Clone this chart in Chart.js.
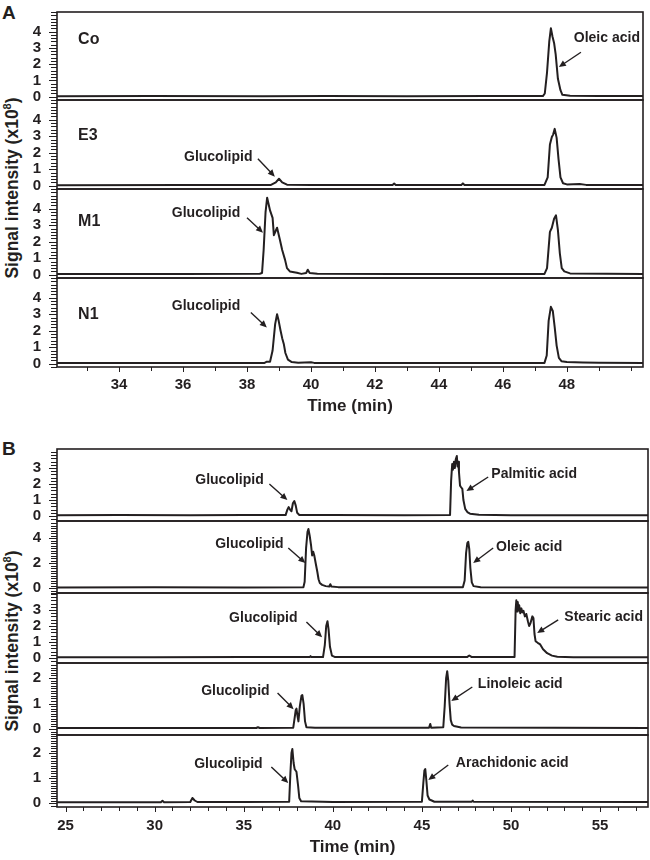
<!DOCTYPE html>
<html lang="en">
<head>
<meta charset="UTF-8">
<title>Chromatograms A / B</title>
<script src="https://cdn.jsdelivr.net/npm/chart.js"></script>
<style>
  body { margin: 0; background: #fff; font-family: 'Liberation Sans', Arial, sans-serif; color: #231f20; }
  #wrap { position: relative; width: 650px; height: 860px; overflow: hidden; }
  #wrap canvas { position: absolute; left: 0; }
  .letter { position: absolute; left: 2px; font-weight: bold; font-size: 19px; line-height: 18px; }
  .ytitle { position: absolute; width: 300px; height: 20px; line-height: 20px; text-align: center;
            font-weight: bold; font-size: 17.5px; transform: rotate(-90deg); white-space: nowrap; }
  .ytitle sup { font-size: 11px; line-height: 0; }
</style>
</head>
<body>
<div id="wrap">
  <div class="letter" style="top:4px;">A</div>
  <div class="letter" style="top:440px;">B</div>
  <div class="ytitle" style="left:-138px; top:178px;">Signal intensity (x10<sup>8</sup>)</div>
  <div class="ytitle" style="left:-138px; top:631px;">Signal intensity (x10<sup>8</sup>)</div>
</div>
<script>
// ---- data: [retention time (min), signal (x10^8)] ----
const timeRangeA = [32.06, 50.38];
const timeRangeB = [24.52, 57.69];
const xLabelsA = [34, 36, 38, 40, 42, 44, 46, 48];
const xLabelsB = [25, 30, 35, 40, 45, 50, 55];

// panel A
const traceCo = [[32.06,0.03],[35.0,0.04],[38.5,0.03],[40.5,0.05],[43.0,0.03],[45.5,0.04],[47.25,0.04],[47.31,0.2],
  [47.38,1.5],[47.45,3.4],[47.5,4.2],[47.55,3.7],[47.6,3.3],[47.65,2.6],[47.72,1.1],[47.8,0.4],[47.86,0.12],
  [48.1,0.06],[49.0,0.05],[50.38,0.04]];
const traceE3 = [[32.06,0.03],[36.0,0.04],[38.75,0.05],[38.9,0.2],[39.0,0.42],[39.1,0.2],[39.25,0.06],[40.0,0.04],
  [42.55,0.04],[42.6,0.13],[42.65,0.04],[44.7,0.04],[44.75,0.14],[44.8,0.04],[47.3,0.05],[47.4,0.5],[47.47,2.5],
  [47.53,2.95],[47.57,3.1],[47.62,3.45],[47.68,2.9],[47.74,1.6],[47.8,0.5],[47.88,0.15],[48.0,0.08],[48.4,0.1],
  [48.6,0.05],[50.38,0.04]];
const traceM1 = [[32.06,0.05],[36.0,0.05],[38.4,0.06],[38.47,0.1],[38.52,1.5],[38.58,3.8],[38.63,4.67],[38.72,3.9],
  [38.8,3.45],[38.84,2.4],[38.94,2.85],[39.03,2.1],[39.1,1.5],[39.19,0.9],[39.25,0.4],[39.34,0.2],[39.56,0.12],
  [39.7,0.05],[39.85,0.1],[39.9,0.3],[39.96,0.1],[40.2,0.06],[42.6,0.05],[44.0,0.04],[47.3,0.05],[47.38,0.4],
  [47.47,2.6],[47.53,2.85],[47.6,3.4],[47.66,3.6],[47.72,2.7],[47.78,1.3],[47.84,0.4],[47.92,0.2],[48.1,0.08],
  [50.38,0.05]];
const traceN1 = [[32.06,0.04],[36.0,0.05],[38.55,0.05],[38.62,0.12],[38.72,0.12],[38.8,0.8],[38.88,2.4],[38.94,3.0],
  [38.99,2.6],[39.05,2.0],[39.1,1.55],[39.15,1.2],[39.2,0.65],[39.28,0.25],[39.4,0.1],[39.6,0.06],[40.0,0.09],
  [40.1,0.05],[43.0,0.05],[47.3,0.05],[47.37,0.5],[47.43,2.6],[47.5,3.45],[47.56,3.2],[47.62,2.2],[47.68,1.1],
  [47.75,0.35],[47.83,0.15],[48.0,0.1],[48.5,0.08],[49.0,0.06],[50.38,0.05]];

// panel B
const tracePalmitic = [[24.52,0.05],[28.0,0.06],[32.0,0.05],[35.0,0.06],[37.35,0.06],[37.45,0.4],[37.52,0.56],
  [37.6,0.4],[37.68,0.3],[37.76,0.8],[37.84,0.94],[37.92,0.65],[38.0,0.2],[38.12,0.07],[40.0,0.06],[44.0,0.05],
  [46.58,0.06],[46.64,2.2],[46.7,3.25],[46.74,2.9],[46.8,3.4],[46.85,3.0],[46.9,3.55],[46.96,3.75],[47.0,3.1],
  [47.04,3.4],[47.08,2.75],[47.14,1.9],[47.2,1.8],[47.27,1.7],[47.33,1.0],[47.43,0.45],[47.55,0.25],[47.7,0.15],
  [48.2,0.08],[50.0,0.05],[57.69,0.05]];
const traceOleic = [[24.52,0.05],[30.0,0.06],[35.0,0.05],[38.35,0.06],[38.42,0.5],[38.5,3.2],[38.58,4.5],[38.63,4.72],
  [38.7,4.2],[38.78,3.4],[38.84,2.6],[38.9,2.9],[38.96,2.6],[39.05,1.9],[39.13,1.3],[39.2,0.7],[39.27,0.4],
  [39.4,0.25],[39.6,0.15],[39.8,0.12],[39.86,0.3],[39.92,0.12],[40.3,0.07],[44.0,0.06],[47.3,0.06],[47.4,0.6],
  [47.48,2.8],[47.55,3.6],[47.6,3.7],[47.66,3.1],[47.72,1.6],[47.8,0.45],[47.9,0.15],[48.3,0.06],[57.69,0.05]];
const traceStearic = [[24.52,0.05],[30.0,0.05],[35.0,0.06],[38.7,0.06],[38.75,0.12],[38.8,0.06],[39.45,0.06],
  [39.55,0.8],[39.63,2.0],[39.7,2.3],[39.76,1.8],[39.84,0.7],[39.95,0.15],[40.1,0.07],[44.0,0.06],[47.55,0.07],
  [47.66,0.16],[47.78,0.07],[50.2,0.07],[50.26,3.0],[50.3,3.6],[50.34,2.9],[50.38,3.5],[50.42,3.0],[50.46,3.3],
  [50.52,2.8],[50.58,3.1],[50.64,2.85],[50.7,2.95],[50.78,2.6],[50.86,2.75],[50.95,2.3],[51.02,2.0],[51.1,2.2],
  [51.2,2.6],[51.26,2.5],[51.32,1.5],[51.38,1.05],[51.5,0.95],[51.64,0.85],[51.8,0.55],[52.03,0.3],[52.3,0.15],
  [52.6,0.08],[53.5,0.05],[57.69,0.05]];
const traceLinoleic = [[24.52,0.04],[30.0,0.04],[35.7,0.04],[35.8,0.07],[35.9,0.04],[37.78,0.05],[37.85,0.4],
  [37.92,0.75],[37.96,0.8],[38.02,0.5],[38.07,0.3],[38.15,0.9],[38.24,1.3],[38.29,1.33],[38.36,1.0],[38.44,0.3],
  [38.52,0.07],[39.0,0.05],[45.4,0.05],[45.47,0.2],[45.52,0.05],[46.2,0.07],[46.28,0.9],[46.36,2.0],[46.42,2.27],
  [46.48,1.9],[46.55,1.0],[46.62,0.35],[46.7,0.17],[46.8,0.12],[47.2,0.06],[57.69,0.04]];
const traceArachidonic = [[24.52,0.03],[28.5,0.03],[30.35,0.03],[30.44,0.09],[30.53,0.03],[32.0,0.04],[32.12,0.2],
  [32.25,0.1],[32.4,0.04],[35.0,0.04],[37.55,0.05],[37.62,1.2],[37.68,2.0],[37.73,2.16],[37.8,1.6],[37.86,1.35],
  [37.96,1.25],[38.05,0.7],[38.12,0.2],[38.22,0.07],[40.0,0.04],[45.0,0.05],[45.08,0.8],[45.14,1.3],[45.19,1.36],
  [45.25,0.9],[45.32,0.3],[45.42,0.14],[45.55,0.1],[45.7,0.05],[47.8,0.05],[47.85,0.1],[47.9,0.05],[57.69,0.04]];

// y ranges and labelled ticks
const yRangeA = [-0.2, 5.2];
const yLabelsA = [0, 1, 2, 3, 4];
const yRangeB = [[-0.31, 4.19], [-0.4, 5.36], [-0.31, 4.06], [-0.235, 2.59], [-0.16, 2.72]];
const yLabelsB = [[0, 1, 2, 3], [0, 2, 4], [0, 1, 2, 3], [0, 1, 2], [0, 1, 2]];
const yMinorB = [0.2, 0.2, 0.2, 0.1, 0.1];

const INK = '#231f20';
const FONT = "'Liberation Sans', Arial, sans-serif";
Chart.defaults.font.family = FONT;
Chart.defaults.color = INK;

// frame, tick marks, text labels and arrows
const frameAndNotes = {
  id: 'frameAndNotes',
  afterDatasetsDraw(chart, args, opts) {
    const {ctx, chartArea: a, scales: {x, y}} = chart;
    ctx.save();
    ctx.strokeStyle = INK;
    ctx.fillStyle = INK;

    // tick marks (taken from the scales' own ticks)
    ctx.lineWidth = 1;
    ctx.beginPath();
    y.ticks.forEach(t => {
      const py = Math.round(y.getPixelForValue(t.value)) + 0.5;
      const len = t.label ? 8 : 6;
      ctx.moveTo(a.left - len, py);
      ctx.lineTo(a.left, py);
    });
    if (x.options.display) {
      x.ticks.forEach(t => {
        const px = Math.round(x.getPixelForValue(t.value)) + 0.5;
        ctx.moveTo(px, a.bottom);
        ctx.lineTo(px, a.bottom + (t.label ? 5 : 4));
      });
    }
    ctx.stroke();

    ctx.lineWidth = 1.6;
    ctx.strokeRect(a.left, a.top, a.right - a.left, a.bottom - a.top);

    (opts.notes || []).forEach(n => {
      ctx.font = 'bold ' + (n.size || 14) + 'px ' + FONT;
      ctx.textAlign = n.align || 'center';
      ctx.textBaseline = 'middle';
      ctx.fillText(n.text, x.getPixelForValue(n.x), y.getPixelForValue(n.y));
    });
    (opts.arrows || []).forEach(ar => {
      const x1 = x.getPixelForValue(ar[0]), y1 = y.getPixelForValue(ar[1]);
      const x2 = x.getPixelForValue(ar[2]), y2 = y.getPixelForValue(ar[3]);
      const ang = Math.atan2(y2 - y1, x2 - x1), c = Math.cos(ang), s = Math.sin(ang);
      ctx.lineWidth = 1.4;
      ctx.beginPath();
      ctx.moveTo(x1, y1);
      ctx.lineTo(x2 - 5 * c, y2 - 5 * s);
      ctx.stroke();
      ctx.beginPath();
      ctx.moveTo(x2, y2);
      ctx.lineTo(x2 - 7 * c + 3.2 * s, y2 - 7 * s - 3.2 * c);
      ctx.lineTo(x2 - 7 * c - 3.2 * s, y2 - 7 * s + 3.2 * c);
      ctx.closePath();
      ctx.fill();
    });
    ctx.restore();
  }
};

const wrap = document.getElementById('wrap');

function makePanel(p) {
  const padTop = 20;
  const axisH = p.axisH || 0;
  const canvas = document.createElement('canvas');
  canvas.width = 650;
  canvas.height = padTop + (p.bottom - p.top) + (axisH || 20);
  canvas.style.top = (p.top - padTop) + 'px';
  wrap.appendChild(canvas);

  const tickFont = {family: FONT, size: 15, weight: 'bold'};
  new Chart(canvas, {
    type: 'line',
    data: {
      datasets: [{
        data: p.trace.map(([t, v]) => ({x: t, y: v})),
        borderColor: INK,
        borderWidth: 2,
        borderJoinStyle: 'round',
        pointRadius: 0,
        tension: 0
      }]
    },
    options: {
      responsive: false,
      animation: false,
      events: [],
      layout: {padding: {top: padTop, bottom: axisH ? 0 : 20, left: 0, right: 650 - p.right}},
      plugins: {
        legend: {display: false},
        tooltip: {enabled: false},
        frameAndNotes: {notes: p.notes, arrows: p.arrows}
      },
      scales: {
        x: {
          type: 'linear',
          min: p.xRange[0],
          max: p.xRange[1],
          display: !!axisH,
          afterFit(s) { s.height = axisH; },
          border: {display: false},
          grid: {drawOnChartArea: false, drawTicks: true, tickLength: 4, color: 'rgba(0,0,0,0)'},
          ticks: {
            stepSize: 1, autoSkip: false, includeBounds: false, maxRotation: 0,
            padding: p.xPad || 5, font: tickFont, color: INK,
            callback: v => p.xLabels.includes(Math.round(v)) && Math.abs(v - Math.round(v)) < 1e-6 ? String(Math.round(v)) : ''
          },
          title: {display: true, text: 'Time (min)', font: {family: FONT, size: 17, weight: 'bold'},
                  color: INK, padding: {top: 0, bottom: 0}}
        },
        y: {
          min: p.yRange[0],
          max: p.yRange[1],
          afterFit(s) { s.width = 57; },
          border: {display: false},
          grid: {drawOnChartArea: false, drawTicks: true, tickLength: 7, color: 'rgba(0,0,0,0)'},
          ticks: {
            stepSize: p.minor, autoSkip: false, includeBounds: false, padding: 9,
            font: tickFont, color: INK,
            callback: v => {
              const r = Math.round(v);
              return Math.abs(v - r) < 1e-6 && p.yLabels.includes(r) ? String(r) : '';
            }
          }
        }
      }
    },
    plugins: [frameAndNotes]
  });
}

// ---- panel A ----
const glucoA = 'Glucolipid';
const panelsA = [
  {trace: traceCo, top: 12, bottom: 100,
   notes: [{text: 'Co', x: 32.72, y: 3.48, align: 'left', size: 16}, {text: 'Oleic acid', x: 49.25, y: 3.6}],
   arrows: [[48.44, 2.73, 47.75, 1.82]]},
  {trace: traceE3, top: 100, bottom: 189,
   notes: [{text: 'E3', x: 32.72, y: 3.07, align: 'left', size: 16}, {text: glucoA, x: 37.1, y: 1.76}],
   arrows: [[38.34, 1.64, 38.87, 0.55]]},
  {trace: traceM1, top: 189, bottom: 278,
   notes: [{text: 'M1', x: 32.72, y: 3.23, align: 'left', size: 16}, {text: glucoA, x: 36.72, y: 3.76}],
   arrows: [[38.0, 3.45, 38.5, 2.55]]},
  {trace: traceN1, top: 278, bottom: 367, axisH: 50, xPad: 5,
   notes: [{text: 'N1', x: 32.72, y: 2.99, align: 'left', size: 16}, {text: glucoA, x: 36.72, y: 3.5}],
   arrows: [[38.12, 3.1, 38.62, 2.2]]}
];
panelsA.forEach(p => makePanel(Object.assign(p, {
  right: 643, xRange: timeRangeA, xLabels: xLabelsA, yRange: yRangeA, yLabels: yLabelsA, minor: 0.2
})));

// ---- panel B ----
const panelsB = [
  {trace: tracePalmitic, top: 449, bottom: 521,
   notes: [{text: 'Glucolipid', x: 34.2, y: 2.25}, {text: 'Palmitic acid', x: 51.3, y: 2.6}],
   arrows: [[36.44, 2.0, 37.45, 1.0], [48.72, 2.44, 47.5, 1.56]]},
  {trace: traceOleic, top: 521, bottom: 593,
   notes: [{text: 'Glucolipid', x: 35.32, y: 3.5}, {text: 'Oleic acid', x: 51.02, y: 3.3}],
   arrows: [[37.5, 3.2, 38.46, 2.0], [49.0, 3.2, 47.88, 2.0]]},
  {trace: traceStearic, top: 593, bottom: 663,
   notes: [{text: 'Glucolipid', x: 36.1, y: 2.5}, {text: 'Stearic acid', x: 55.2, y: 2.56}],
   arrows: [[38.52, 2.25, 39.4, 1.3], [52.65, 2.38, 51.47, 1.56]]},
  {trace: traceLinoleic, top: 663, bottom: 735,
   notes: [{text: 'Glucolipid', x: 34.53, y: 1.5}, {text: 'Linoleic acid', x: 50.52, y: 1.76}],
   arrows: [[36.9, 1.41, 37.8, 0.78], [47.83, 1.65, 46.65, 1.1]]},
  {trace: traceArachidonic, top: 735, bottom: 807, axisH: 51, xPad: 6,
   notes: [{text: 'Glucolipid', x: 34.14, y: 1.56}, {text: 'Arachidonic acid', x: 50.07, y: 1.6}],
   arrows: [[36.55, 1.44, 37.5, 0.8], [46.48, 1.52, 45.36, 0.92]]}
];
panelsB.forEach((p, i) => makePanel(Object.assign(p, {
  right: 648, xRange: timeRangeB, xLabels: xLabelsB, yRange: yRangeB[i], yLabels: yLabelsB[i], minor: yMinorB[i]
})));
</script>
</body>
</html>
